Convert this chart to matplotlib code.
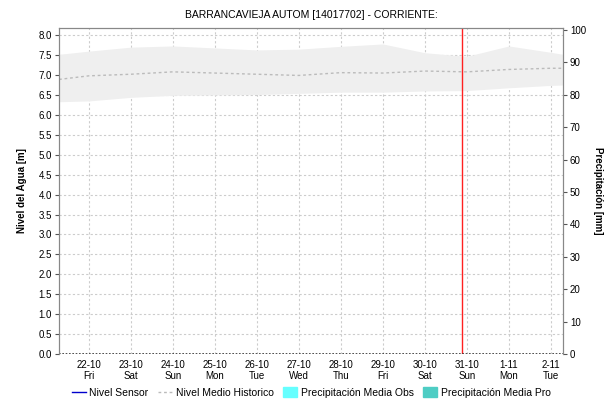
import numpy as np
import matplotlib.pyplot as plt
from matplotlib.patches import Patch
from matplotlib.lines import Line2D

plt.rcParams["font.family"] = ["Liberation Sans", "DejaVu Sans"]
plt.rcParams["font.size"] = 7

# days since 22-10 00:00 (tick positions), band edges
days = [-0.71, 0, 1, 2, 3, 4, 5, 6, 7, 8, 9, 10, 11, 11.29]
band_hi = [7.52, 7.60, 7.70, 7.73, 7.68, 7.63, 7.65, 7.72, 7.78, 7.56, 7.47, 7.73, 7.57, 7.52]
band_lo = [6.33, 6.35, 6.44, 6.49, 6.50, 6.51, 6.54, 6.57, 6.57, 6.60, 6.61, 6.68, 6.74, 6.75]
medio = [6.89, 6.98, 7.02, 7.08, 7.05, 7.02, 6.99, 7.06, 7.05, 7.10, 7.08, 7.14, 7.17, 7.17]

tick_days = list(range(12))
tick_labels = ["22-10\nFri", "23-10\nSat", "24-10\nSun", "25-10\nMon", "26-10\nTue",
               "27-10\nWed", "28-10\nThu", "29-10\nFri", "30-10\nSat", "31-10\nSun",
               "1-11\nMon", "2-11\nTue"]
now_day = 8.88

fig = plt.figure(figsize=(6.16, 4.09), dpi=100)
ax = fig.add_axes([0.0958, 0.1345, 0.8182, 0.797])
ax2 = ax.twinx()

ax.fill_between(days, band_lo, band_hi, color="#efefef", lw=0, zorder=1)
ax.plot(days, medio, color="#bbbbbb", ls=(0, (2, 2)), lw=1, zorder=2)
ax.axvline(now_day, color="#ff2020", lw=1, zorder=3)
ax.axhline(0, color="#333333", ls=(0, (1, 1)), lw=1.2, zorder=3)

ax.set_xlim(-0.71, 11.29)
ax.set_ylim(0, 8.18)
ax.set_yticks(np.arange(0, 8.01, 0.5))
ax.set_yticklabels([f"{v:.1f}" for v in np.arange(0, 8.01, 0.5)])
ax.set_xticks(tick_days)
ax.set_xticklabels(tick_labels)
ax.tick_params(axis="x", length=0, pad=4)
ax.tick_params(axis="y", length=3, width=0.8, color="#555555", pad=2)
ax.grid(True, color="#cccccc", ls=(0, (2, 2)), lw=0.8)
ax.set_axisbelow(True)

ax2.set_ylim(0, 100.6)
ax2.set_yticks(range(0, 101, 10))
ax2.tick_params(axis="y", length=3, width=0.8, color="#555555", pad=2)

for a in (ax, ax2):
    for s in ("left", "right", "top"):
        a.spines[s].set_color("#888888")
    a.spines["bottom"].set_visible(False)

ax.set_ylabel("Nivel del Agua [m]", fontweight="bold", labelpad=8)
ax2.set_ylabel("Precipitación [mm]", fontweight="bold", rotation=-90, labelpad=12)
ax.set_title("BARRANCAVIEJA AUTOM [14017702] - CORRIENTE:", fontsize=7.5, pad=7)

handles = [
    Line2D([], [], color="#0000cc", lw=1),
    Line2D([], [], color="#bbbbbb", lw=1, ls=(0, (2, 2))),
    Patch(color="#66ffff"),
    Patch(color="#4ecdc4"),
]
labels = ["Nivel Sensor", "Nivel Medio Historico", "Precipitación Media Obs", "Precipitación Media Pro"]
fig.legend(handles, labels, loc="center", bbox_to_anchor=(0.505, 0.04), ncol=4, frameon=False,
           handlelength=1.4, handleheight=1.1, handletextpad=0.3, columnspacing=0.9, fontsize=7.5)

fig.savefig("out.png", dpi=100)
